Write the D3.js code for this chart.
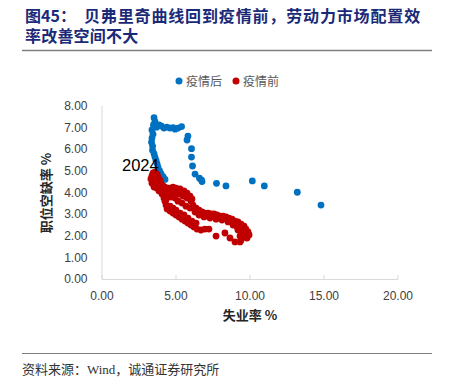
<!DOCTYPE html>
<html>
<head>
<meta charset="utf-8">
<script src="https://cdn.jsdelivr.net/npm/d3@7"></script>
<style>
    body { margin: 0; background: #fff; }
    svg { display: block; }
</style>
</head>
<body>
<svg id="chart" width="453" height="385"></svg>
<script>
// [失业率, 职位空缺率]
const postCovid = [
    [3.55, 7.44], [3.61, 7.26], [3.51, 7.10], [3.72, 7.00], [3.41, 6.87], [3.48, 6.68],
    [3.41, 6.50], [3.38, 6.31], [3.45, 6.13], [3.45, 5.94], [3.55, 5.78], [3.61, 5.62],
    [3.68, 5.48], [3.75, 5.32], [3.82, 5.16], [3.92, 5.00], [4.02, 4.86], [4.16, 4.72],
    [4.29, 4.59], [3.89, 7.10], [4.05, 7.05], [4.22, 6.96], [4.42, 7.00], [4.63, 6.96],
    [4.83, 6.98], [4.97, 6.91], [5.17, 6.96], [5.41, 7.03], [5.84, 6.59], [5.78, 6.41],
    [6.08, 6.01], [6.08, 5.62], [6.15, 5.21], [6.32, 4.84], [6.62, 4.65], [6.76, 4.56],
    [6.79, 4.49], [7.77, 4.41], [8.41, 4.29], [10.19, 4.52], [11.0, 4.29], [13.23, 4.00],
    [14.83, 3.41]
];

const preCovid = [
    // 2018-2019
    [3.48, 4.88], [3.61, 4.93], [3.75, 4.84], [3.41, 4.75], [3.61, 4.70], [3.82, 4.70],
    [3.34, 4.61], [3.55, 4.56], [3.75, 4.52], [3.95, 4.56], [3.41, 4.42], [3.61, 4.38],
    [3.82, 4.38], [4.02, 4.42], [3.55, 4.24], [3.75, 4.19], [3.95, 4.24], [4.16, 4.29],
    [3.89, 4.06], [4.09, 3.92], [4.22, 3.73],
    // 2010-2017
    [4.29, 4.24], [4.56, 4.19], [4.83, 4.24], [5.03, 4.19], [5.30, 4.15], [5.57, 4.06],
    [5.78, 3.96], [5.98, 3.82], [6.11, 3.69],
    [4.16, 4.06], [4.43, 4.01], [4.70, 3.96], [4.97, 3.96], [5.24, 3.92], [5.51, 3.82],
    [5.78, 3.73], [6.05, 3.59], [6.18, 3.41],
    [4.43, 3.82], [4.70, 3.78], [4.97, 3.73], [5.17, 3.59], [5.44, 3.50], [5.71, 3.36],
    [5.98, 3.27], [6.32, 3.09],
    [6.39, 3.27], [6.59, 3.18], [6.79, 3.09], [6.99, 3.04], [7.20, 3.04], [7.40, 3.00],
    [7.60, 3.00], [7.80, 2.95], [8.01, 2.90], [8.21, 2.90], [8.41, 2.86], [8.61, 2.81],
    [8.82, 2.76], [9.02, 2.67], [9.22, 2.63], [9.43, 2.53], [9.63, 2.44], [9.76, 2.30],
    [9.90, 2.17], [9.97, 2.03], [9.83, 1.89], [9.63, 1.94], [9.43, 1.80], [9.36, 1.98],
    [9.56, 2.12], [9.22, 2.26],
    [6.59, 2.95], [6.93, 2.86], [7.33, 2.81], [7.74, 2.76], [8.14, 2.72], [8.55, 2.63],
    [8.89, 2.49], [9.16, 2.40], [9.49, 2.26], [9.76, 2.12],
    // 2001-2009
    [4.36, 3.64], [4.29, 3.59], [4.36, 3.41], [4.43, 3.23], [4.63, 3.13], [4.83, 3.04],
    [5.03, 2.95], [5.24, 2.86], [5.44, 2.76], [5.64, 2.67], [5.84, 2.58], [6.05, 2.49],
    [6.25, 2.40], [6.45, 2.30], [6.72, 2.26], [6.99, 2.30], [7.26, 2.30], [7.74, 1.98],
    [8.34, 2.12], [8.68, 1.89], [9.02, 1.71], [9.36, 1.71],
    [4.63, 3.36], [4.83, 3.27], [5.03, 3.18], [5.30, 3.04], [5.57, 2.95], [5.84, 2.81],
    [6.11, 2.67], [6.39, 2.58]
];

const xTicks = [0, 5, 10, 15, 20];
const yTicks = [0, 1, 2, 3, 4, 5, 6, 7, 8];
const seriesNames = ['疫情后', '疫情前'];
const colors = ['#0070c0', '#c00000'];

const svg = d3.select('#chart');

const x = d3.scaleLinear().domain([0, 20]).range([101.5, 397.5]);
const y = d3.scaleLinear().domain([0, 8]).range([279, 105.5]);

// title
const title = svg.append('g')
    .attr('font-family', '"Noto Sans CJK SC", sans-serif')
    .attr('font-weight', 700)
    .attr('font-size', 16)
    .attr('fill', '#1a2a78');
title.append('text').attr('x', 25).attr('y', 22).text('图45：');
title.append('text').attr('x', 84).attr('y', 22).attr('letter-spacing', 0.85)
    .text('贝弗里奇曲线回到疫情前，劳动力市场配置效');
title.append('text').attr('x', 25).attr('y', 42).attr('letter-spacing', 0.2)
    .text('率改善空间不大');

svg.append('line')
    .attr('x1', 22).attr('x2', 432).attr('y1', 50.5).attr('y2', 50.5)
    .attr('stroke', '#7f7f7f').attr('stroke-width', 1.5);

// axes
const xAxis = svg.append('g')
    .attr('transform', 'translate(0,' + y(0) + ')')
    .call(d3.axisBottom(x).tickValues(xTicks).tickFormat(d3.format('.2f'))
        .tickSizeInner(-4).tickSizeOuter(0).tickPadding(12));
xAxis.select('.domain').attr('stroke', '#d9d9d9');
xAxis.selectAll('.tick line').attr('stroke', '#d9d9d9');
xAxis.selectAll('.tick text')
    .attr('font-family', '"Liberation Sans", Arial, sans-serif')
    .attr('font-size', 12).attr('fill', '#404040');

const yAxis = svg.append('g')
    .attr('transform', 'translate(' + x(0) + ',0)')
    .call(d3.axisLeft(y).tickValues(yTicks).tickFormat(d3.format('.2f'))
        .tickSize(0).tickPadding(14));
yAxis.select('.domain').attr('stroke', '#d9d9d9');
yAxis.selectAll('.tick text')
    .attr('font-family', '"Liberation Sans", Arial, sans-serif')
    .attr('font-size', 12).attr('fill', '#404040');

// axis titles
svg.append('text')
    .attr('x', 250).attr('y', 320)
    .attr('text-anchor', 'middle')
    .attr('font-family', '"Noto Sans CJK SC", sans-serif')
    .attr('font-weight', 700).attr('font-size', 13).attr('fill', '#262626')
    .text('失业率 %');

svg.append('text')
    .attr('transform', 'translate(51,193) rotate(-90)')
    .attr('text-anchor', 'middle')
    .attr('font-family', '"Noto Sans CJK SC", sans-serif')
    .attr('font-weight', 700).attr('font-size', 13).attr('fill', '#262626')
    .text('职位空缺率 %');

// points
[postCovid, preCovid].forEach((data, i) => {
    svg.append('g').selectAll('circle')
        .data(data)
        .enter().append('circle')
        .attr('cx', d => x(d[0]))
        .attr('cy', d => y(d[1]))
        .attr('r', 3.4)
        .attr('fill', colors[i]);
});

svg.append('text')
    .attr('x', 122).attr('y', 171)
    .attr('font-family', '"Liberation Sans", Arial, sans-serif')
    .attr('font-size', 16.5).attr('fill', '#000')
    .text('2024');

// legend
const legendX = [179, 236];
const legend = svg.append('g').selectAll('g')
    .data(seriesNames)
    .enter().append('g')
    .attr('transform', (d, i) => 'translate(' + legendX[i] + ',81)');
legend.append('circle').attr('r', 3.5).attr('fill', (d, i) => colors[i]);
legend.append('text')
    .attr('x', 7).attr('y', 4.5)
    .attr('font-family', '"Noto Sans CJK SC", sans-serif')
    .attr('font-size', 12).attr('fill', '#595959')
    .text(d => d);

// source
svg.append('line')
    .attr('x1', 22).attr('x2', 432).attr('y1', 353.5).attr('y2', 353.5)
    .attr('stroke', '#7f7f7f').attr('stroke-width', 1);
svg.append('text')
    .attr('x', 22).attr('y', 374)
    .attr('font-family', '"Liberation Serif", "Noto Sans CJK SC", serif')
    .attr('font-size', 13).attr('fill', '#333')
    .text('资料来源：Wind，诚通证券研究所');
</script>
</body>
</html>
